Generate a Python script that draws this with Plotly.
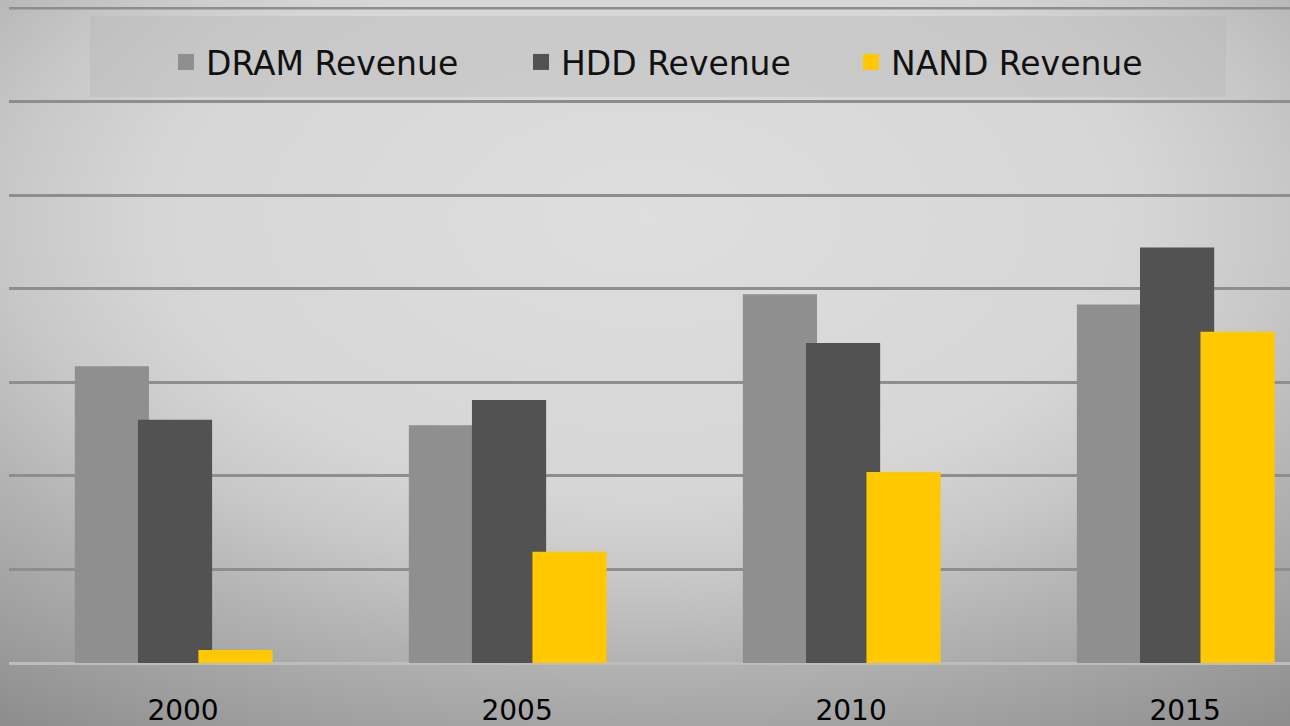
import plotly.graph_objects as go
import urllib.parse

# ---- data ----
years = ["2000", "2005", "2010", "2015"]
dram_revenue = [31.7, 25.4, 39.4, 38.3]
hdd_revenue = [26.0, 28.1, 34.2, 44.4]
nand_revenue = [1.4, 11.9, 20.4, 35.4]
y_max = 70

series_names = ["DRAM Revenue", "HDD Revenue", "NAND Revenue"]
series_colors = ["#8f8f8f", "#525252", "#ffc800"]
series_offsets = [-0.324, -0.135, 0.046]
bar_width = 0.222

fig = go.Figure()
for name, vals, col, off in zip(series_names, [dram_revenue, hdd_revenue, nand_revenue],
                                series_colors, series_offsets):
    fig.add_trace(go.Bar(x=years, y=vals, name=name, marker_color=col,
                         marker_line_width=0, width=bar_width, offset=off,
                         showlegend=False))

# legend entries (separate legends for exact placement)
legend_ids = ["legend", "legend2", "legend3"]
for name, col, lid in zip(series_names, series_colors, legend_ids):
    fig.add_trace(go.Scatter(x=[None], y=[None], mode="markers", name=name,
                             marker=dict(symbol="square", size=16, color=col),
                             legend=lid, showlegend=True))

# background radial gradient
svg = ("<svg xmlns='http://www.w3.org/2000/svg' width='1290' height='726' preserveAspectRatio='none'>"
       "<defs><radialGradient id='g' cx='0.5' cy='0.3' r='0.95'>"
       "<stop offset='0' stop-color='#dedede'/>"
       "<stop offset='0.4' stop-color='#d6d6d6'/>"
       "<stop offset='0.52' stop-color='#c8c8c8'/>"
       "<stop offset='0.65' stop-color='#b2b2b2'/>"
       "<stop offset='0.8' stop-color='#9c9c9c'/>"
       "<stop offset='1' stop-color='#7e7e7e'/>"
       "</radialGradient></defs>"
       "<rect width='1290' height='726' fill='url(#g)'/></svg>")
src = "data:image/svg+xml;charset=utf-8," + urllib.parse.quote(svg)

L, R, T, B = 9, 0, 7, 63
W, H = 1290, 726
pw, ph = W - L - R, H - T - B

fig.add_layout_image(dict(source=src, xref="paper", yref="paper",
                          x=-L / pw, y=1 + T / ph, sizex=W / pw, sizey=H / ph,
                          xanchor="left", yanchor="top", sizing="stretch",
                          layer="below", opacity=1))

# legend box
fig.add_shape(type="rect", xref="paper", yref="paper",
              x0=(90 - L) / pw, x1=(1226 - L) / pw,
              y0=(H - B - 97) / ph, y1=(H - B - 16) / ph,
              fillcolor="rgba(185,185,185,0.45)", line_width=0, layer="below")
# top gridline (plotly skips the grid line at the range edge)
fig.add_shape(type="line", xref="paper", yref="y", x0=0, x1=1, y0=y_max, y1=y_max,
              line=dict(color="#8e8e8e", width=3), layer="below")

leg_font = dict(family="DejaVu Sans", size=33, color="#111111")
leg_y = (H - B - 62) / ph
leg_common = dict(orientation="h", yanchor="middle", y=leg_y, xanchor="left",
                  bgcolor="rgba(0,0,0,0)", borderwidth=0, font=leg_font)

fig.update_layout(
    width=W, height=H,
    margin=dict(l=L, r=R, t=T, b=B, pad=0),
    paper_bgcolor="#c8c8c8",
    plot_bgcolor="rgba(0,0,0,0)",
    barmode="overlay",
    legend=dict(x=(166 - L) / pw, **leg_common),
    legend2=dict(x=(521 - L) / pw, **leg_common),
    legend3=dict(x=(851 - L) / pw, **leg_common),
    xaxis=dict(type="category", range=[-0.521, 3.314], showgrid=False,
               showline=False, zeroline=False, ticks="outside", ticklen=22,
               tickcolor="rgba(0,0,0,0)",
               tickfont=dict(family="DejaVu Sans", size=28, color="#000000")),
    yaxis=dict(range=[0, y_max + 0.1], tickvals=[0, 10, 20, 30, 40, 50, 60, 70],
               showticklabels=False, showgrid=True,
               gridcolor="#8e8e8e", gridwidth=3, zeroline=True,
               zerolinecolor="#bdbdbd", zerolinewidth=3, showline=False),
    showlegend=True,
)

fig.write_html("out.html", config={"displayModeBar": False},
               post_script="document.body.style.margin='0';document.body.style.overflow='hidden';")
